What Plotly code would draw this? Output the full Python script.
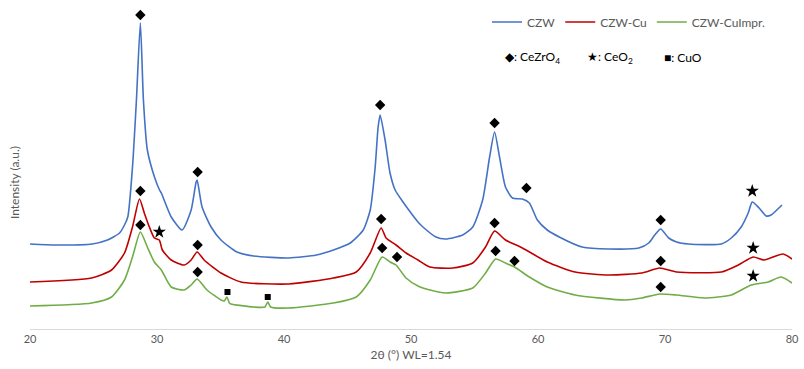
import plotly.graph_objects as go

# ---- data (2theta in degrees, intensity in arbitrary units) ----
czw_2theta = [20.0, 22.0, 24.9, 26.1, 27.05, 27.4, 27.7, 28.07, 28.38, 28.69, 28.93, 29.24, 29.8, 30.2,
              30.34, 31.12, 31.98, 32.69, 33.08, 33.16, 33.55, 34.26, 35.04, 36.29, 37.62, 40.37,
              42.56, 43.89, 45.22, 46.24, 46.79, 47.18, 47.41, 47.57, 47.96, 48.35, 48.75, 49.37,
              50.0, 50.55, 50.94, 51.96, 52.74, 54.07, 54.86, 55.64, 56.19, 56.58, 56.97, 57.44,
              57.99, 58.77, 59.32, 59.95, 60.73, 61.67, 63.47, 65.59, 67.94, 68.72, 69.19, 69.66,
              70.29, 70.91, 71.85, 74.44, 75.22, 76.0, 76.55, 76.87, 77.41, 77.96, 78.35, 79.21]
czw_int = [85, 84, 85, 89, 96, 103, 112, 162, 229, 306, 229, 179, 152, 139,
           136, 112, 99, 119, 147, 149, 122, 102, 89, 77, 73, 71,
           74, 79, 86, 99, 119, 162, 202, 214, 189, 156, 139, 127,
           116, 107, 102, 92, 90, 94, 102, 129, 172, 197, 172, 142,
           131, 130, 126, 109, 99, 92, 82, 80, 81, 86, 94, 100,
           91, 87, 85, 85, 91, 102, 116, 127, 121, 113, 114, 124]

czwcu_2theta = [20.0, 24.86, 26.42, 27.44, 28.07, 28.62, 29.0, 29.4, 29.79, 30.18, 30.42, 31.12,
                32.14, 32.69, 33.16, 33.71, 35.04, 36.61, 40.37, 43.89, 45.69, 46.79, 47.65, 48.04,
                48.82, 49.61, 50.55, 51.49, 53.29, 54.86, 55.87, 56.58, 57.44, 58.77, 60.73, 62.92,
                65.59, 68.17, 69.58, 70.91, 74.44, 75.77, 76.94, 77.8, 79.29, 80.0]
czwcu_int = [47, 51, 59, 76, 102, 130, 116, 102, 91, 89, 79, 69,
             64, 69, 77, 69, 56, 47, 45, 51, 57, 76, 101, 91,
             84, 76, 69, 62, 61, 66, 82, 98, 89, 81, 67, 57,
             54, 56, 61, 57, 57, 64, 72, 69, 75, 70]

czwcuimpr_2theta = [20.0, 24.86, 26.42, 27.44, 28.07, 28.69, 29.24, 29.79, 30.34, 31.12, 32.14, 32.69,
                    33.16, 33.94, 35.04, 35.3, 35.5, 35.7, 35.82, 37.62, 38.5, 38.72, 38.95, 40.37,
                    43.89, 45.69, 46.79, 47.73, 48.35, 48.82, 49.61, 50.55, 51.49, 52.74, 54.86, 55.87,
                    56.66, 57.44, 58.15, 59.32, 60.73, 62.92, 66.84, 68.17, 69.58, 70.91, 73.11, 75.22,
                    76.79, 78.12, 79.14, 80.0]
czwcuimpr_int = [23, 26, 32, 49, 72, 97, 82, 67, 59, 42, 39, 44,
                 50, 39, 29, 28, 32, 26, 25, 22, 22, 27, 22, 21,
                 26, 32, 49, 72, 67, 64, 51, 43, 39, 36, 41, 56,
                 70, 66, 62, 52, 42, 34, 29, 31, 35, 34, 31, 34,
                 44, 47, 52, 46]

# phase markers
cezro4_2theta = [28.69, 33.2, 47.57, 56.58, 59.09, 69.66,
                 28.69, 33.2, 47.65, 56.58, 69.66,
                 28.69, 33.2, 47.73, 48.9, 56.66, 58.15, 69.66]
cezro4_int = [314, 157, 224, 206, 141, 109,
              138, 84, 110, 106, 68,
              104, 57, 81, 72, 78, 68, 42]
ceo2_2theta = [76.87, 30.18, 76.94, 76.94]
ceo2_int = [138, 97, 81, 53]
cuo_2theta = [35.55, 38.72]
cuo_int = [37, 32]

series_names = ["CZW", "CZW-Cu", "CZW-CuImpr."]
series_colors = ["#4472C4", "#C00000", "#70AD47"]
x_ticks = [20, 30, 40, 50, 60, 70, 80]

FONT = "Lato, Calibri, Carlito, sans-serif"
GRAY = "#595959"

fig = go.Figure()
for name, xs, ys, col in zip(series_names,
                             [czw_2theta, czwcu_2theta, czwcuimpr_2theta],
                             [czw_int, czwcu_int, czwcuimpr_int],
                             series_colors):
    fig.add_trace(go.Scatter(x=xs, y=ys, mode="lines", name=name,
                             line=dict(color=col, width=1.6, shape="spline", smoothing=0.6)))

for xs, ys, sym, sz in [(cezro4_2theta, cezro4_int, "diamond", 8),
                        (ceo2_2theta, ceo2_int, "star", 10),
                        (cuo_2theta, cuo_int, "square", 6)]:
    fig.add_trace(go.Scatter(x=xs, y=ys, mode="markers", showlegend=False, hoverinfo="skip",
                             marker=dict(symbol=sym, size=sz, color="black", line=dict(width=0))))

L, R, T, B = 30, 7, 5, 40
W, H = 804, 369
pw = W - L - R
ph = H - T - B

def px_x(p):
    return (p - L) / pw

def px_y(p):
    return (H - B - p) / ph

annotations = [
    dict(text="Intensity (a.u.)", textangle=-90, x=px_x(14), y=px_y(183), xref="paper", yref="paper",
         showarrow=False, font=dict(family=FONT, size=12, color=GRAY), xanchor="center", yanchor="middle"),
    dict(text="◆: CeZrO<sub>4</sub>", x=px_x(506), y=px_y(57), xref="paper", yref="paper",
         showarrow=False, font=dict(family=FONT, size=12, color="black"), xanchor="left", yanchor="middle"),
    dict(text="★: CeO<sub>2</sub>", x=px_x(589), y=px_y(57), xref="paper", yref="paper",
         showarrow=False, font=dict(family=FONT, size=12, color="black"), xanchor="left", yanchor="middle"),
    dict(text="■: CuO", x=px_x(666), y=px_y(57), xref="paper", yref="paper",
         showarrow=False, font=dict(family=FONT, size=12, color="black"), xanchor="left", yanchor="middle"),
]

fig.update_layout(
    width=W, height=H,
    margin=dict(l=L, r=R, t=T, b=B),
    paper_bgcolor="white", plot_bgcolor="white",
    font=dict(family=FONT, size=12, color=GRAY),
    showlegend=True,
    legend=dict(orientation="h", x=px_x(490), y=px_y(22), xanchor="left", yanchor="middle",
                font=dict(family=FONT, size=12, color=GRAY), bgcolor="rgba(0,0,0,0)",
                itemwidth=30, tracegroupgap=0),
    annotations=annotations,
    xaxis=dict(range=[20, 80], tickvals=x_ticks, ticktext=[str(v) for v in x_ticks],
               showgrid=False, zeroline=False, showline=True, linecolor="#D9D9D9", linewidth=1,
               ticks="", tickfont=dict(family=FONT, size=11, color=GRAY),
               title=dict(text="2θ (°) WL=1.54", font=dict(family=FONT, size=12, color=GRAY), standoff=6)),
    yaxis=dict(range=[0, ph], showgrid=False, zeroline=False, showline=False, showticklabels=False,
               ticks=""),
)

fig.write_html("out.html", config={"displayModeBar": False},
               post_script="document.body.style.margin='0px';document.body.style.overflow='hidden';")
